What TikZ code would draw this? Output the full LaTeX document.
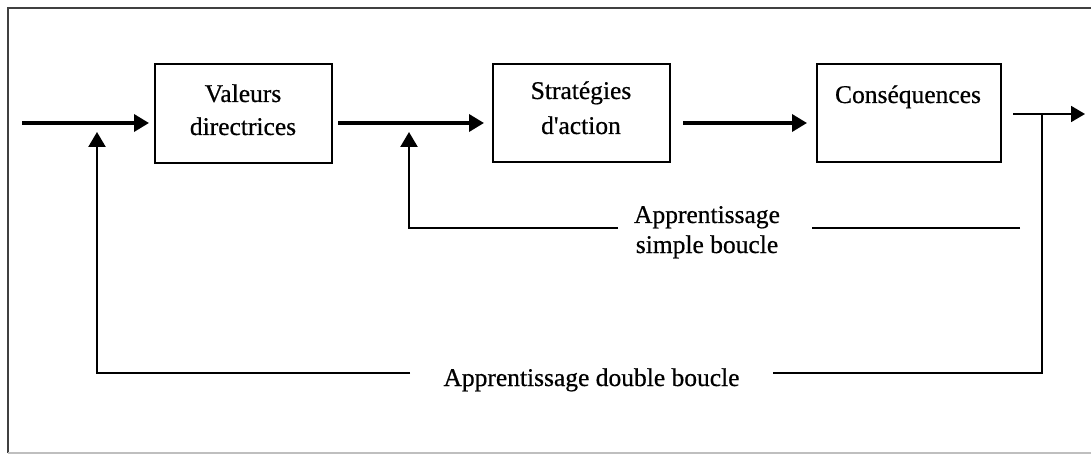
\documentclass[tikz,border=0pt]{standalone}
\usepackage{fontspec}
\setmainfont{Liberation Serif}[FakeBold=0.6]
\usetikzlibrary{arrows.meta}
\tikzset{
  x=1pt, y=-1pt,
  stage/.style={draw=black, line width=2pt, rectangle, inner sep=0pt},
  flow/.style={line width=3.5pt, -{Triangle[length=15pt,width=17pt]}},
  loopline/.style={line width=2.4pt},
  thinloop/.style={line width=1.8pt},
  caption/.style={font=\fontsize{25.5}{30}\selectfont, anchor=base, inner sep=0pt},
}
\begin{document}
\begin{tikzpicture}
\useasboundingbox (0,0) rectangle (1091,454);
% frame
\draw[line width=2pt, draw=black!75] (8,453) -- (8,8) -- (1091,8);
\draw[line width=2pt, draw=black!25] (8,453) -- (1091,453);

% stages
\node[stage, minimum width=177pt, minimum height=99pt] (val) at (243.5,113.5) {};
\node[stage, minimum width=177pt, minimum height=98pt] (str) at (581.5,113) {};
\node[stage, minimum width=184pt, minimum height=98pt] (con) at (909,113) {};

\node[caption] (valA) at (243,102) {Valeurs};
\node[caption] (valB) at (243,135) {directrices};
\node[caption] (strA) at (581,99) {Stratégies};
\node[caption] (strB) at (581,134) {d\textquotesingle action};
\node[caption] (conA) at (908,103) {Conséquences};

% main flow
\coordinate (in) at (22,123);
\draw[flow] (in) -- ([xshift=-5pt,yshift=-9.5pt]val.west);
\draw[flow] ([xshift=5pt,yshift=-9.5pt]val.east) -- ([xshift=-8pt,yshift=-10pt]str.west);
\draw[flow] ([xshift=12pt,yshift=-10pt]str.east) -- ([xshift=-9pt,yshift=-10pt]con.west);

% output
\coordinate (outA) at (1013,114);
\coordinate (outB) at (1085,114);
\coordinate (tap) at (1042,114);
\draw[thinloop, -{Triangle[length=14pt,width=16pt]}] (outA) -- (outB);

% double loop
\node[caption] (dbl) at (591.5,386) {Apprentissage double boucle};
\coordinate (dR) at (1042,373);
\coordinate (dL) at (97,373);
\coordinate (dT) at (97,132);
\draw[thinloop] (tap) -- (dR) -- (773,373);
\draw[loopline, -{Triangle[length=15pt,width=17pt]}] (410,373) -- (dL) -- (dT);

% simple loop
\node[caption] (smpA) at (707,223) {Apprentissage};
\node[caption] (smpB) at (707,253) {simple boucle};
\coordinate (sL) at (409,228);
\coordinate (sT) at (409,132);
\draw[thinloop] (1020,228) -- (812,228);
\draw[loopline, -{Triangle[length=15pt,width=17pt]}] (618,228) -- (sL) -- (sT);
\end{tikzpicture}
\end{document}
